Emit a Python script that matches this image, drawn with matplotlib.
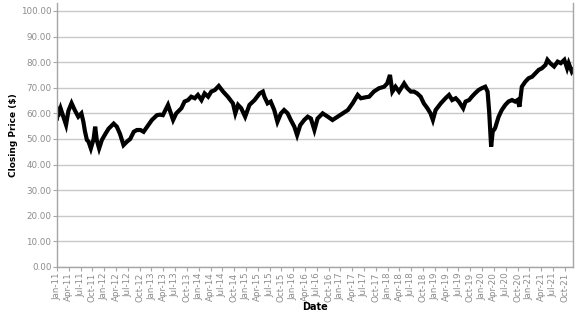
import matplotlib
matplotlib.use("Agg")
import matplotlib.pyplot as plt

# months elapsed since Jan 2011 and closing price
months = [
    0.0, 0.3, 0.6, 0.9, 2.3, 2.9, 3.7, 4.5, 5.4, 6.2, 6.7, 7.1, 7.6, 8.0, 8.6,
    9.3, 9.7, 10.1, 10.7, 11.4, 12.3, 13.1, 14.4, 15.2, 16.0, 16.9, 17.8, 18.6,
    19.5, 20.3, 21.2, 22.0, 22.9, 24.1, 25.4, 26.2, 26.9, 28.2, 29.5, 30.3,
    31.6, 32.4, 33.3, 34.1, 35.0, 35.8, 36.7, 37.5, 38.4, 39.2, 40.1, 41.1,
    42.2, 43.4, 44.7, 45.3, 46.0, 46.8, 47.8, 48.9, 50.2, 51.5, 52.3, 52.7,
    53.5, 54.3, 55.2, 56.0, 56.9, 57.7, 58.6, 59.4, 60.3, 61.0, 61.8, 62.8,
    63.7, 64.5, 65.4, 66.2, 67.5, 68.8, 70.0, 71.3, 72.6, 73.9, 75.1, 76.4,
    77.2, 78.5, 79.3, 80.5, 81.8, 83.1, 83.9, 84.6, 85.2, 86.0, 86.9, 88.2,
    89.0, 89.9, 90.7, 91.5, 92.4, 93.2, 94.1, 94.9, 95.5, 96.2, 97.5, 98.7,
    99.6, 100.4, 101.3, 102.1, 103.2, 103.8, 104.7, 105.4, 106.2, 107.1,
    107.9, 108.8, 109.4, 109.8, 110.1, 110.3, 110.7, 111.3, 112.2, 113.0,
    113.9, 114.7, 115.6, 116.4, 117.0, 117.5, 118.1, 119.0, 119.8, 120.7,
    121.5, 122.4, 123.2, 124.1, 124.6, 125.3, 126.3, 127.2, 128.0, 128.9,
    129.6, 130.0, 130.8, 131.1,
]
prices = [
    58.0, 61.3, 60.5, 62.0, 55.5, 61.0, 64.0, 61.3, 58.7, 60.0, 56.7, 53.0,
    49.6, 49.0, 46.3, 50.0, 54.8, 49.6, 46.3, 49.6, 52.0, 54.0, 56.0, 54.8,
    52.0, 47.6, 49.0, 50.0, 52.8, 53.5, 53.5, 52.8, 54.8, 57.4, 59.3, 59.5,
    59.3, 63.3, 57.4, 60.0, 62.0, 64.6, 65.2, 66.5, 65.9, 67.2, 65.2, 67.8,
    66.5, 68.5, 69.1, 70.7, 68.5, 66.5, 63.9, 60.0, 63.3, 62.0, 58.7, 63.3,
    65.2, 67.8, 68.5, 66.5, 63.9, 64.6, 61.3, 56.7, 60.0, 61.3, 60.0, 57.4,
    54.8, 51.5, 55.4, 57.4, 58.7, 58.0, 53.5, 58.0, 60.0, 58.7, 57.4, 58.7,
    60.0, 61.3, 63.9, 67.2, 65.9, 66.3, 66.5, 68.5, 69.8, 70.4, 71.7, 75.0,
    68.5, 70.4, 68.5, 71.7, 69.8, 68.5, 68.5, 67.8, 66.5, 63.9, 62.0, 60.0,
    57.4, 61.3, 63.9, 65.9, 67.2, 65.2, 65.9, 64.6, 62.0, 64.6, 65.2, 66.5,
    67.8, 69.1, 69.8, 70.4, 68.5, 60.7, 52.9, 47.0, 52.9, 54.2, 58.7, 61.3,
    63.3, 64.6, 65.2, 64.6, 65.2, 62.6, 70.4, 72.4, 73.7, 74.3, 75.6, 77.0,
    77.6, 78.9, 80.9, 79.6, 78.3, 80.2, 79.6, 80.9, 77.6, 79.6, 76.3, 77.0,
]

tick_months = list(range(0, 130, 3))
tick_labels = [f"{m}-{y:02d}" for y in range(11, 22) for m in ["Jan", "Apr", "Jul", "Oct"]]
y_ticks = list(range(0, 101, 10))

grey = "#8c8c8c"

fig = plt.figure(figsize=(5.77, 3.15), dpi=100)
ax = fig.add_axes([57 / 577, 48 / 315, 516 / 577, 264 / 315])

ax.plot(months, prices, color="black", linewidth=3.0, solid_joinstyle="miter")

ax.set_xlim(0, 131.1)
ax.set_ylim(0, 103.1)

ax.set_yticks(y_ticks)
ax.set_yticklabels([f"{v:.2f}" for v in y_ticks])
ax.set_xticks(tick_months)
ax.set_xticklabels(tick_labels, rotation=90)

ax.yaxis.grid(True, color="#c8c8c8", linewidth=1)
ax.set_axisbelow(True)

ax.spines["top"].set_visible(False)
for s in ["left", "right", "bottom"]:
    ax.spines[s].set_color("#a6a6a6")
    ax.spines[s].set_linewidth(1)

ax.tick_params(axis="both", colors="#a6a6a6", labelcolor=grey, labelsize=6.3,
               length=3, width=0.8, pad=1)

ax.set_xlabel("Date", fontsize=7, fontweight="bold", labelpad=0)
ax.set_ylabel("Closing Price ($)", fontsize=6.5, fontweight="bold", labelpad=2)

fig.savefig("out.png", dpi=100)
